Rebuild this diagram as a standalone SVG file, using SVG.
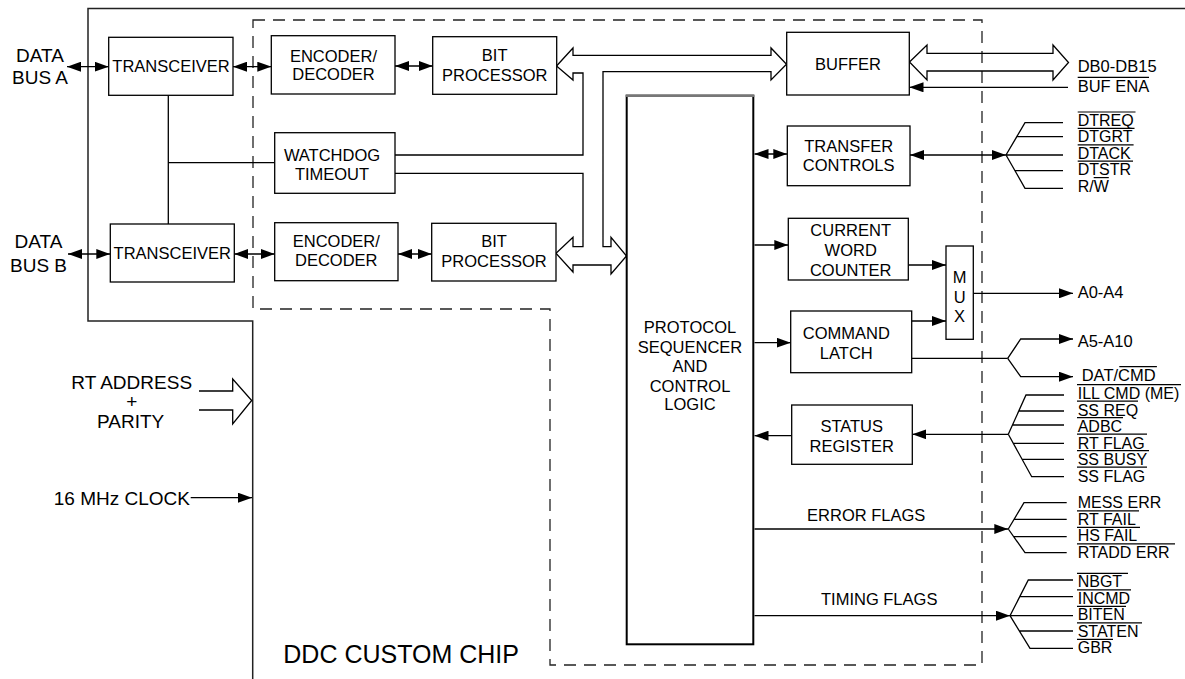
<svg xmlns="http://www.w3.org/2000/svg" width="1185" height="679" viewBox="0 0 1185 679">
<defs>
<marker id="ah" markerUnits="userSpaceOnUse" markerWidth="14" markerHeight="10" refX="14" refY="5" orient="auto-start-reverse" viewBox="0 0 14 10"><path d="M0,0 L14,5 L0,10 Z" fill="#000"/></marker>
</defs>
<style>
text{font-family:"Liberation Sans",Arial,sans-serif;font-size:16.5px;fill:#000}
.c{text-anchor:middle}
.big{font-size:19px}
.sig{font-size:16px}
.box{fill:#fff;stroke:#000;stroke-width:1.3}
.ln{fill:none;stroke:#000;stroke-width:1.3}
.ovl{stroke:#000;stroke-width:1.2}
.arr{marker-end:url(#ah)}
.dbl{marker-start:url(#ah);marker-end:url(#ah)}
</style>
<rect x="0" y="0" width="1185" height="679" fill="#fff"/>

<g id="chip-boundary">
<path d="M1185,8.5 H88 V321 H252.7 V679" fill="none" stroke="#222" stroke-width="1.5"/>
<text x="283.3" y="663.3" style="font-size:25px">DDC CUSTOM CHIP</text>
</g>
<g id="custom-boundary">
<path d="M253,20 H982 V665 H550 V309 H253 Z" fill="none" stroke="#222" stroke-width="1.3" stroke-dasharray="12 8"/>
</g>

<g id="connectors" class="ln">
<line class="dbl" x1="67" y1="66.7" x2="108.7" y2="66.7"/>
<line class="dbl" x1="68" y1="254" x2="110.3" y2="254"/>
<line class="dbl" x1="233" y1="66.7" x2="271.3" y2="66.7"/>
<line class="dbl" x1="234.3" y1="254" x2="274.7" y2="254"/>
<line class="dbl" x1="395" y1="66" x2="432.7" y2="66"/>
<line class="dbl" x1="398" y1="254" x2="431.7" y2="254"/>
<path d="M168.3,95.3 V224 M168.3,162.7 H274.7"/>
<path d="M395,155 H583 V73 H573 V80 L556.5,66 L573,48 V55.3 H771 V48 L786.5,64.3 L771,80 V71.7 H603 V246.7 H611 V237.3 L626.5,256 L611,274 V265 H573 V272 L556,253.3 L573,237.3 V246.7 H583 V173.3 H395"/>
<path d="M909.5,62 L927,45 V53.3 H1053 V45 L1068.5,62.5 L1053,80 V71 H927 V80 Z"/>
<line class="arr" x1="1068" y1="87.3" x2="909.5" y2="87.3"/>
<line class="dbl" x1="754.5" y1="154" x2="787.3" y2="154"/>
<line class="dbl" x1="910" y1="155" x2="1006" y2="155"/>
<path d="M1006,155 L1025,122.7 H1063 M1016.8,136.7 H1063 M1006,155 H1063 M1006,155 L1025,188.3 H1063 M1015.1,170.7 H1063"/>
<line class="arr" x1="754.5" y1="245" x2="788.3" y2="245"/>
<line class="arr" x1="908.3" y1="265" x2="946" y2="265"/>
<line class="arr" x1="754.5" y1="342.7" x2="790.7" y2="342.7"/>
<line class="arr" x1="911.7" y1="321" x2="946" y2="321"/>
<line class="arr" x1="973.3" y1="293.3" x2="1073" y2="293.3"/>
<path d="M911.7,358.3 H1007.7"/>
<path class="arr" d="M1007.7,358.3 L1020.7,339 H1073"/>
<path class="arr" d="M1007.7,358.3 L1020.7,376.7 H1073"/>
<line class="arr" x1="1008.3" y1="434.3" x2="912.3" y2="434.3"/>
<path d="M1008.3,434.3 L1026,395 H1064 M1018.8,411 H1064 M1012.5,425 H1064 M1008.3,434.3 L1031.7,476.7 H1064 M1013.3,443.3 H1064 M1022.1,459.3 H1064"/>
<line class="arr" x1="791.7" y1="435.7" x2="754.5" y2="435.7"/>
<line class="arr" x1="754.5" y1="529" x2="1008.3" y2="529"/>
<path d="M1008.3,529 L1024,502.7 H1066.7 M1014.1,519.3 H1066.7 M1008.3,529 L1025,552.7 H1066.7 M1013.7,536.7 H1066.7"/>
<line class="arr" x1="754.5" y1="615.7" x2="1010" y2="615.7"/>
<path d="M1010,615.7 L1028.3,580 H1073 M1019.7,596.7 H1073 M1010,615.7 H1073 M1010,615.7 L1030,648.3 H1073 M1019.4,631 H1073"/>
<path d="M199,391 H232.7 V379 L251.7,400.5 L232.7,424 V410 H199"/>
<line class="arr" x1="190.7" y1="497.7" x2="252" y2="497.7"/>
</g>

<g id="data-bus-a"><text class="c big" x="40" y="61.7">DATA</text><text class="c big" x="40" y="84.3">BUS A</text></g>
<g id="data-bus-b"><text class="c big" x="38.5" y="248.3">DATA</text><text class="c big" x="38.5" y="271.7">BUS B</text></g>

<g id="transceiver-a"><rect class="box" x="108.7" y="37.3" width="124.3" height="58"/><text class="c" x="171" y="72.3">TRANSCEIVER</text></g>
<g id="transceiver-b"><rect class="box" x="110.3" y="224" width="124" height="58"/><text class="c" x="172.3" y="259.3">TRANSCEIVER</text></g>
<g id="encoder-a"><rect class="box" x="271.3" y="35.7" width="123.7" height="58.3"/><text class="c" x="333.5" y="61.7">ENCODER/</text><text class="c" x="333.5" y="80">DECODER</text></g>
<g id="encoder-b"><rect class="box" x="274.7" y="222.7" width="123.3" height="58"/><text class="c" x="336.3" y="247.3">ENCODER/</text><text class="c" x="336.3" y="265.7">DECODER</text></g>
<g id="watchdog"><rect class="box" x="274.7" y="132.7" width="120.3" height="60.6"/><text class="c" x="332" y="160.7">WATCHDOG</text><text class="c" x="332" y="180">TIMEOUT</text></g>
<g id="bit-processor-a"><rect class="box" x="432.7" y="36.7" width="124" height="57.6"/><text class="c" x="494.7" y="61">BIT</text><text class="c" x="494.7" y="81">PROCESSOR</text></g>
<g id="bit-processor-b"><rect class="box" x="431.7" y="223.3" width="124.3" height="57.7"/><text class="c" x="494" y="246.7">BIT</text><text class="c" x="494" y="266.7">PROCESSOR</text></g>
<g id="buffer"><rect class="box" x="786.7" y="32.3" width="122.6" height="62.7"/><text class="c" x="848" y="70">BUFFER</text></g>
<g id="transfer-controls"><rect class="box" x="787.3" y="126" width="122.7" height="59.7"/><text class="c" x="848.7" y="151.7">TRANSFER</text><text class="c" x="848.7" y="171">CONTROLS</text></g>
<g id="current-word-counter"><rect class="box" x="788.3" y="218.3" width="120" height="61.7"/><text class="c" x="850.7" y="235.7">CURRENT</text><text class="c" x="850.7" y="256">WORD</text><text class="c" x="850.7" y="275.7">COUNTER</text></g>
<g id="mux"><rect class="box" x="946" y="246" width="27.3" height="93.3"/><text class="c" x="959.6" y="283.3">M</text><text class="c" x="959.6" y="302.7">U</text><text class="c" x="959.6" y="321.7">X</text></g>
<g id="command-latch"><rect class="box" x="790.7" y="311" width="121" height="61.7"/><text class="c" x="846.3" y="339.3">COMMAND</text><text class="c" x="846.3" y="359">LATCH</text></g>
<g id="status-register"><rect class="box" x="791.7" y="405" width="120.6" height="59.3"/><text class="c" x="851.7" y="431.7">STATUS</text><text class="c" x="851.7" y="451.7">REGISTER</text></g>
<g id="protocol-sequencer"><rect x="626.7" y="95.7" width="126.6" height="548.6" fill="#fff" stroke="#000" stroke-width="2"/><line x1="625.7" y1="95.7" x2="754.3" y2="95.7" stroke="#777" stroke-width="2.5"/>
<text class="c" x="690" y="333.3">PROTOCOL</text><text class="c" x="690" y="353.3">SEQUENCER</text><text class="c" x="690" y="371.7">AND</text><text class="c" x="690" y="391.7">CONTROL</text><text class="c" x="690" y="410">LOGIC</text></g>

<g id="rt-address"><text class="c big" x="131.7" y="389.3">RT ADDRESS</text><text class="c big" x="131.7" y="408.3">+</text><text class="c big" x="130.7" y="428.3">PARITY</text></g>
<g id="clock"><text class="big" x="190" y="505" text-anchor="end">16 MHz CLOCK</text></g>

<g id="buffer-signals">
<text x="1077.7" y="72.3">DB0-DB15</text>
<text x="1077.7" y="91.7">BUF ENA</text>
<line class="ovl" x1="1077.7" y1="77.4" x2="1149" y2="77.4"/>
</g>
<g id="transfer-signals">
<text class="sig" x="1077.7" y="126">DTREQ</text>
<text class="sig" x="1077.7" y="142.4">DTGRT</text>
<text class="sig" x="1077.7" y="158.8">DTACK</text>
<text class="sig" x="1077.7" y="175.2">DTSTR</text>
<text class="sig" x="1077.7" y="191.6">R/W</text>
<line class="ovl" x1="1077.7" y1="112" x2="1135.5" y2="112"/>
<line class="ovl" x1="1077.7" y1="128.4" x2="1134.5" y2="128.4"/>
<line class="ovl" x1="1077.7" y1="144.8" x2="1133.6" y2="144.8"/>
<line class="ovl" x1="1077.7" y1="161.2" x2="1133" y2="161.2"/>
<line class="ovl" x1="1093.7" y1="177.6" x2="1108.8" y2="177.6"/>
</g>
<g id="address-signals">
<text x="1077.7" y="298.3">A0-A4</text>
<text x="1077.7" y="346.7">A5-A10</text>
<text x="1081.7" y="380.7">DAT/CMD</text>
<line class="ovl" x1="1119.3" y1="366.7" x2="1156.9" y2="366.7"/>
</g>
<g id="status-signals">
<text class="sig" x="1077.7" y="399">ILL CMD (ME)</text>
<text class="sig" x="1077.7" y="415.5">SS REQ</text>
<text class="sig" x="1077.7" y="432">ADBC</text>
<text class="sig" x="1077.7" y="448.5">RT FLAG</text>
<text class="sig" x="1077.7" y="465">SS BUSY</text>
<text class="sig" x="1077.7" y="481.5">SS FLAG</text>
<line class="ovl" x1="1077" y1="384.7" x2="1181" y2="384.7"/>
<line class="ovl" x1="1077" y1="401.2" x2="1138" y2="401.2"/>
<line class="ovl" x1="1077" y1="417.7" x2="1123" y2="417.7"/>
<line class="ovl" x1="1077" y1="434.2" x2="1147" y2="434.2"/>
<line class="ovl" x1="1077" y1="450.7" x2="1149" y2="450.7"/>
<line class="ovl" x1="1077" y1="467.2" x2="1147" y2="467.2"/>
</g>
<g id="error-flags">
<text class="c" x="866.2" y="521">ERROR FLAGS</text>
<text class="sig" x="1077.7" y="508.3">MESS ERR</text>
<text class="sig" x="1077.7" y="524.8">RT FAIL</text>
<text class="sig" x="1077.7" y="541.3">HS FAIL</text>
<text class="sig" x="1077.7" y="557.8">RTADD ERR</text>
<line class="ovl" x1="1077" y1="510.8" x2="1139" y2="510.8"/>
<line class="ovl" x1="1077" y1="527.3" x2="1140" y2="527.3"/>
<line class="ovl" x1="1077" y1="543.8" x2="1175" y2="543.8"/>
</g>
<g id="timing-flags">
<text class="c" x="879.2" y="605">TIMING FLAGS</text>
<text class="sig" x="1077.7" y="587.3">NBGT</text>
<text class="sig" x="1077.7" y="603.8">INCMD</text>
<text class="sig" x="1077.7" y="620.3">BITEN</text>
<text class="sig" x="1077.7" y="636.8">STATEN</text>
<text class="sig" x="1077.7" y="653.3">GBR</text>
<line class="ovl" x1="1077" y1="573.3" x2="1128" y2="573.3"/>
<line class="ovl" x1="1077" y1="589.8" x2="1131" y2="589.8"/>
<line class="ovl" x1="1077" y1="606.3" x2="1126" y2="606.3"/>
<line class="ovl" x1="1077" y1="622.8" x2="1142" y2="622.8"/>
<line class="ovl" x1="1077" y1="639.3" x2="1113" y2="639.3"/>
</g>
</svg>
